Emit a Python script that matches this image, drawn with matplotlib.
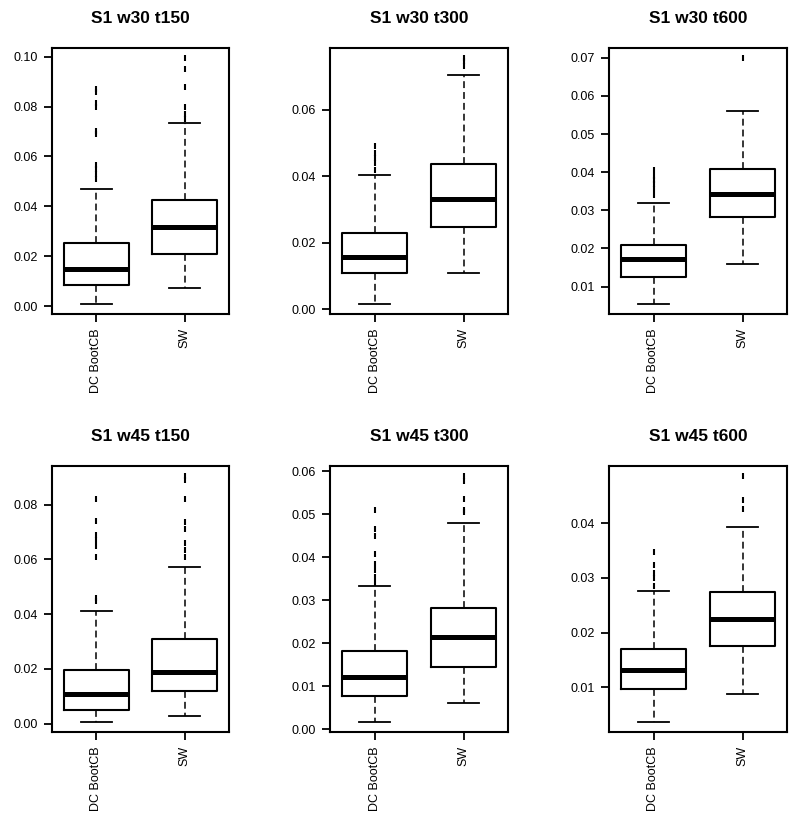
import matplotlib
matplotlib.use("Agg")
from matplotlib import pyplot as plt

plt.rcParams['font.family'] = ['Liberation Sans', 'DejaVu Sans']

groups = ["DC BootCB", "SW"]
titles = ["S1 w30 t150", "S1 w30 t300", "S1 w30 t600",
          "S1 w45 t150", "S1 w45 t300", "S1 w45 t600"]

# [whisker low, Q1, median, Q3, whisker high]
dc_stats = [
    [0.0008, 0.0084, 0.0148, 0.0253, 0.0469],
    [0.0016, 0.0108, 0.0157, 0.0229, 0.0405],
    [0.0054, 0.0125, 0.0173, 0.0208, 0.0319],
    [0.0006, 0.0051, 0.0109, 0.0197, 0.0410],
    [0.0017, 0.0078, 0.0122, 0.0182, 0.0334],
    [0.0036, 0.0097, 0.0132, 0.0170, 0.0277],
]
sw_stats = [
    [0.0072, 0.0209, 0.0316, 0.0426, 0.0735],
    [0.0109, 0.0248, 0.0332, 0.0436, 0.0705],
    [0.0159, 0.0282, 0.0342, 0.0409, 0.0560],
    [0.0027, 0.0121, 0.0190, 0.0310, 0.0574],
    [0.0061, 0.0146, 0.0214, 0.0282, 0.0479],
    [0.0088, 0.0176, 0.0224, 0.0275, 0.0394],
]
dc_out = [
    [0.051, 0.053, 0.055, 0.0565, 0.069, 0.070, 0.080, 0.0815, 0.086, 0.087],
    [0.042, 0.044, 0.0455, 0.047, 0.049],
    [0.034, 0.0355, 0.037, 0.038, 0.039, 0.0405],
    [0.045, 0.046, 0.061, 0.065, 0.067, 0.069, 0.074, 0.082],
    [0.034, 0.0355, 0.037, 0.0385, 0.0408, 0.045, 0.0466, 0.051],
    [0.0285, 0.030, 0.031, 0.0324, 0.0347],
]
sw_out = [
    [0.075, 0.077, 0.080, 0.088, 0.095, 0.0995],
    [0.073, 0.0745, 0.0755],
    [0.070],
    [0.061, 0.0635, 0.066, 0.071, 0.0735, 0.082, 0.089, 0.0905],
    [0.0505, 0.051, 0.0535, 0.0577, 0.0589],
    [0.0427, 0.0443, 0.0487],
]
yticks = [
    [0.00, 0.02, 0.04, 0.06, 0.08, 0.10],
    [0.00, 0.02, 0.04, 0.06],
    [0.01, 0.02, 0.03, 0.04, 0.05, 0.06, 0.07],
    [0.00, 0.02, 0.04, 0.06, 0.08],
    [0.00, 0.01, 0.02, 0.03, 0.04, 0.05, 0.06],
    [0.01, 0.02, 0.03, 0.04],
]

W, H = 798, 823
fig = plt.figure(figsize=(W / 100, H / 100), dpi=100)

cols = [(52, 229), (330, 508), (609, 787)]
rows = [(48, 314), (466, 732)]


def make_stats(s, fl, label):
    return dict(whislo=s[0], q1=s[1], med=s[2], q3=s[3], whishi=s[4],
                fliers=fl, label=label)


for i in range(6):
    (x0, x1) = cols[i % 3]
    (y0, y1) = rows[i // 3]
    ax = fig.add_axes([x0 / W, 1 - y1 / H, (x1 - x0) / W, (y1 - y0) / H])
    stats = [make_stats(dc_stats[i], dc_out[i], groups[0]),
             make_stats(sw_stats[i], sw_out[i], groups[1])]
    ax.bxp(stats, positions=[1, 2], widths=0.74, showfliers=True,
           boxprops=dict(color="black", linewidth=1.5),
           medianprops=dict(color="black", linewidth=3.6, solid_capstyle="butt"),
           whiskerprops=dict(color="black", linewidth=1.1, linestyle=(0, (4.5, 2.6))),
           capprops=dict(color="black", linewidth=1.3),
           capwidths=0.35,
           flierprops=dict(marker="|", markersize=4, markeredgewidth=1.5,
                           markeredgecolor="black", linestyle="none"))
    allv = dc_stats[i] + sw_stats[i] + dc_out[i] + sw_out[i]
    lo, hi = min(allv), max(allv)
    r = hi - lo
    ax.set_ylim(lo - 0.04 * r, hi + 0.04 * r)
    ax.set_xlim(0.5, 2.5)
    ax.set_yticks(yticks[i])
    ax.set_yticklabels(["%.2f" % v for v in yticks[i]])
    ax.set_xticks([1, 2])
    ax.set_xticklabels(groups, rotation=90)
    ax.tick_params(axis="both", direction="out", length=6, width=1.3,
                   labelsize=9, pad=4, colors="black")
    for sp in ax.spines.values():
        sp.set_linewidth(1.5)
    ax.set_title(titles[i], fontsize=12.5, fontweight="bold", pad=18)

fig.savefig("out.png", dpi=100, facecolor="white")
